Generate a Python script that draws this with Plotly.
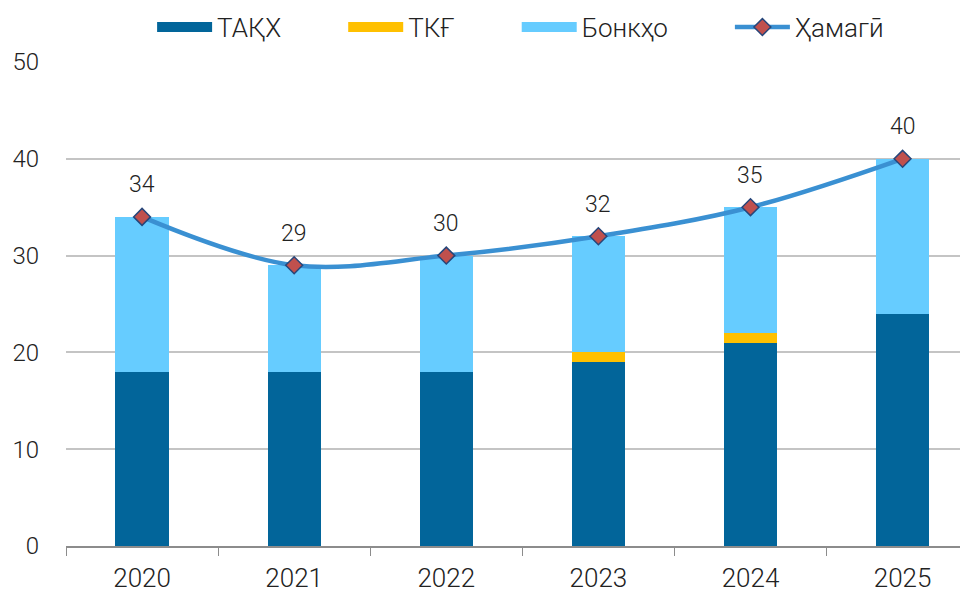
import plotly.graph_objects as go

years = ["2020", "2021", "2022", "2023", "2024", "2025"]
takh = [18, 18, 18, 19, 21, 24]
tkg = [0, 0, 0, 1, 1, 0]
bonk = [16, 11, 12, 12, 13, 16]
total = [34, 29, 30, 32, 35, 40]
y_ticks = [0, 10, 20, 30, 40, 50]

font = "Roboto"
pad = "\u00a0" * 9
series = [("ТАҚХ", takh, "#02659a"), ("ТКҒ", tkg, "#ffc000"), ("Бонкҳо", bonk, "#66ccff")]

fig = go.Figure()
for name, vals, col in series:
    fig.add_trace(go.Bar(x=years, y=vals, name=name, marker=dict(color=col, line=dict(width=0)),
                         width=0.35, showlegend=False))
for name, vals, col in series:
    fig.add_trace(go.Scatter(x=[None], y=[None], name=name + pad, mode="lines",
                             line=dict(color=col, width=14)))
fig.add_trace(go.Scatter(x=years, y=total, name="Ҳамагӣ", mode="lines+markers",
                         line=dict(color="#3a90d2", width=4.5, shape="spline", smoothing=1.0),
                         marker=dict(symbol="diamond", size=13, color="#c0504d",
                                     line=dict(color="#27467a", width=1.5))))
for i, t in enumerate(total):
    fig.add_annotation(x=i, y=t, xref="x", yref="y", text=str(t), showarrow=False, yshift=32,
                       font=dict(family=font, size=23, color="#222", weight=300))

fig.update_layout(
    barmode="stack",
    width=968, height=592,
    margin=dict(l=58, r=8, t=54, b=54, autoexpand=False),
    plot_bgcolor="white", paper_bgcolor="white",
    font=dict(family=font, size=23, color="#222", weight=300),
    legend=dict(orientation="h", x=0.504, xanchor="center", y=1.072, yanchor="middle",
                font=dict(family=font, size=26, color="#222", weight=300), itemwidth=55,
                traceorder="normal"),
    xaxis=dict(type="category", range=[-0.5, 5.43], showgrid=False, showline=True, linecolor="#8c8c8c",
               linewidth=1.5, ticks="outside", tickson="boundaries", ticklen=8, automargin=False,
               tickcolor="#8c8c8c", ticklabelstandoff=8,
               tickfont=dict(family=font, size=26, color="#222", weight=300)),
    yaxis=dict(range=[0, 50], tickvals=y_ticks, showgrid=True, gridcolor="#c4c4c4",
               gridwidth=1.5, zeroline=False, showline=False, ticks="", automargin=False,
               tickfont=dict(family=font, size=24, color="#222", weight=300), ticklabelstandoff=26),
)
fig.write_html("out.html")
